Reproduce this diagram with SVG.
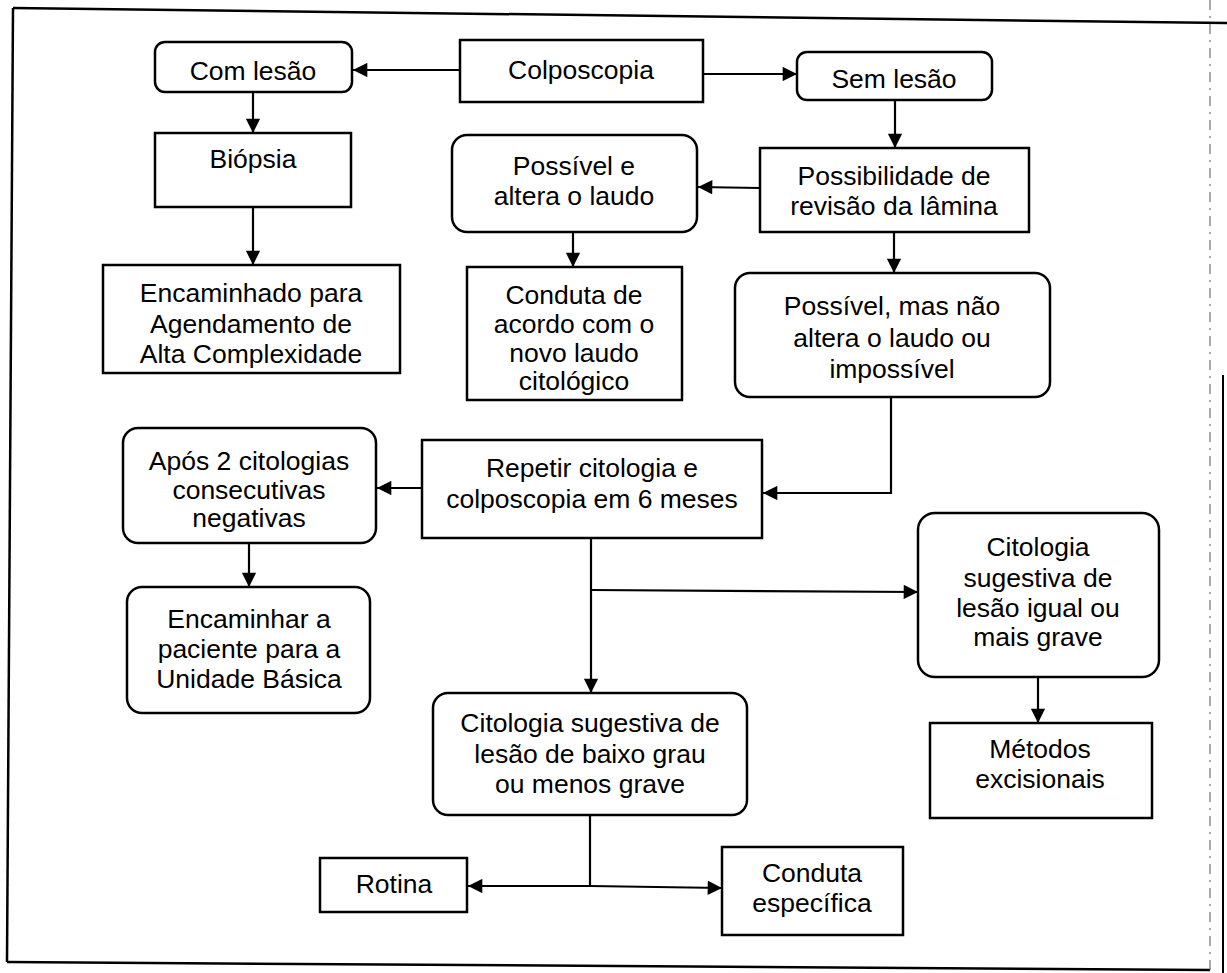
<svg xmlns="http://www.w3.org/2000/svg" width="1227" height="973" viewBox="0 0 1227 973">
  <defs>
    <style>
      .box { fill: #fff; stroke: #000; stroke-width: 2.5; }
      .lbl { font-family: "Liberation Sans", Arial, sans-serif; font-size: 26.5px; fill: #000; text-anchor: middle; }
      .wire { fill: none; stroke: #000; stroke-width: 2.2; }
      .frame { fill: none; stroke: #000; stroke-width: 2.5; }
    </style>
    <marker id="arrow" viewBox="0 0 10 10" refX="10" refY="5" markerWidth="7" markerHeight="6.5" markerUnits="strokeWidth" orient="auto">
      <path d="M0,0 L10,5 L0,10 z" fill="#000"/>
    </marker>
  </defs>
  <rect width="1227" height="973" fill="#fff"/>

  <!-- page frame -->
  <g id="frame">
    <path class="frame" d="M13,8 L1227,23"/>
    <path class="frame" d="M13,8 L7,962"/>
    <path class="frame" d="M7,962 L1210,970"/>
    <path d="M1210,0 L1210,973" stroke="#555" stroke-width="1" stroke-dasharray="10 6 2 6" fill="none"/>
    <path d="M1223,375 L1223,973" stroke="#000" stroke-width="2" fill="none"/>
  </g>

  <!-- connectors -->
  <g id="connectors">
    <path class="wire" d="M460,70 L353,70" marker-end="url(#arrow)"/>
    <path class="wire" d="M703,74 L797,74" marker-end="url(#arrow)"/>
    <path class="wire" d="M253,92 L253,133" marker-end="url(#arrow)"/>
    <path class="wire" d="M253,207 L253,265" marker-end="url(#arrow)"/>
    <path class="wire" d="M895,100 L895,148" marker-end="url(#arrow)"/>
    <path class="wire" d="M760,188 L698,187" marker-end="url(#arrow)"/>
    <path class="wire" d="M573,232 L573,267" marker-end="url(#arrow)"/>
    <path class="wire" d="M894,232 L894,273" marker-end="url(#arrow)"/>
    <path class="wire" d="M891,397 L891,493 L763,493" marker-end="url(#arrow)"/>
    <path class="wire" d="M422,488 L377,488" marker-end="url(#arrow)"/>
    <path class="wire" d="M249,543 L249,587" marker-end="url(#arrow)"/>
    <path class="wire" d="M591,538 L591,693" marker-end="url(#arrow)"/>
    <path class="wire" d="M591,590 L918,592" marker-end="url(#arrow)"/>
    <path class="wire" d="M590,815 L590,886"/>
    <path class="wire" d="M590,886 L468,886" marker-end="url(#arrow)"/>
    <path class="wire" d="M590,886 L722,888" marker-end="url(#arrow)"/>
    <path class="wire" d="M1038,677 L1038,723" marker-end="url(#arrow)"/>
  </g>

  <g id="colposcopia">
    <rect class="box" x="460" y="40" width="243" height="62"/>
    <text class="lbl" x="581" y="79">Colposcopia</text>
  </g>
  <g id="com-lesao">
    <rect class="box" x="155" y="42" width="197" height="50" rx="10"/>
    <text class="lbl" x="253" y="80">Com lesão</text>
  </g>
  <g id="sem-lesao">
    <rect class="box" x="797" y="52" width="195" height="48" rx="10"/>
    <text class="lbl" x="894" y="88">Sem lesão</text>
  </g>
  <g id="biopsia">
    <rect class="box" x="155" y="133" width="196" height="74"/>
    <text class="lbl" x="253" y="168">Biópsia</text>
  </g>
  <g id="encaminhado">
    <rect class="box" x="103" y="265" width="297" height="108"/>
    <text class="lbl" x="251" y="302">Encaminhado para</text>
    <text class="lbl" x="251" y="333">Agendamento de</text>
    <text class="lbl" x="251" y="363">Alta Complexidade</text>
  </g>
  <g id="possivel-altera">
    <rect class="box" x="452" y="135" width="245" height="97" rx="15"/>
    <text class="lbl" x="574" y="175">Possível e</text>
    <text class="lbl" x="574" y="205">altera o laudo</text>
  </g>
  <g id="possibilidade-revisao">
    <rect class="box" x="760" y="148" width="269" height="84"/>
    <text class="lbl" x="894" y="185">Possibilidade de</text>
    <text class="lbl" x="894" y="215">revisão da lâmina</text>
  </g>
  <g id="conduta-novo-laudo">
    <rect class="box" x="467" y="267" width="215" height="133"/>
    <text class="lbl" x="574" y="304">Conduta de</text>
    <text class="lbl" x="574" y="333">acordo com o</text>
    <text class="lbl" x="574" y="362">novo laudo</text>
    <text class="lbl" x="574" y="390">citológico</text>
  </g>
  <g id="possivel-nao-altera">
    <rect class="box" x="735" y="273" width="315" height="124" rx="15"/>
    <text class="lbl" x="892" y="315">Possível, mas não</text>
    <text class="lbl" x="892" y="347">altera o laudo ou</text>
    <text class="lbl" x="892" y="378">impossível</text>
  </g>
  <g id="repetir">
    <rect class="box" x="422" y="440" width="340" height="98"/>
    <text class="lbl" x="592" y="477">Repetir citologia e</text>
    <text class="lbl" x="592" y="508">colposcopia em 6 meses</text>
  </g>
  <g id="apos-negativas">
    <rect class="box" x="123" y="428" width="253" height="115" rx="15"/>
    <text class="lbl" x="249" y="470">Após 2 citologias</text>
    <text class="lbl" x="249" y="499">consecutivas</text>
    <text class="lbl" x="249" y="527">negativas</text>
  </g>
  <g id="encaminhar-unidade">
    <rect class="box" x="127" y="587" width="243" height="126" rx="15"/>
    <text class="lbl" x="249" y="628">Encaminhar a</text>
    <text class="lbl" x="249" y="658">paciente para a</text>
    <text class="lbl" x="249" y="688">Unidade Básica</text>
  </g>
  <g id="lesao-mais-grave">
    <rect class="box" x="918" y="513" width="241" height="164" rx="17"/>
    <text class="lbl" x="1038" y="556">Citologia</text>
    <text class="lbl" x="1038" y="587">sugestiva de</text>
    <text class="lbl" x="1038" y="617">lesão igual ou</text>
    <text class="lbl" x="1038" y="646">mais grave</text>
  </g>
  <g id="metodos-excisionais">
    <rect class="box" x="930" y="723" width="222" height="95"/>
    <text class="lbl" x="1040" y="758">Métodos</text>
    <text class="lbl" x="1040" y="788">excisionais</text>
  </g>
  <g id="lesao-baixo-grau">
    <rect class="box" x="433" y="693" width="314" height="122" rx="15"/>
    <text class="lbl" x="590" y="732">Citologia sugestiva de</text>
    <text class="lbl" x="590" y="763">lesão de baixo grau</text>
    <text class="lbl" x="590" y="793">ou menos grave</text>
  </g>
  <g id="rotina">
    <rect class="box" x="320" y="858" width="147" height="54"/>
    <text class="lbl" x="394" y="893">Rotina</text>
  </g>
  <g id="conduta-especifica">
    <rect class="box" x="722" y="847" width="181" height="88"/>
    <text class="lbl" x="812" y="882">Conduta</text>
    <text class="lbl" x="812" y="912">específica</text>
  </g>
</svg>
